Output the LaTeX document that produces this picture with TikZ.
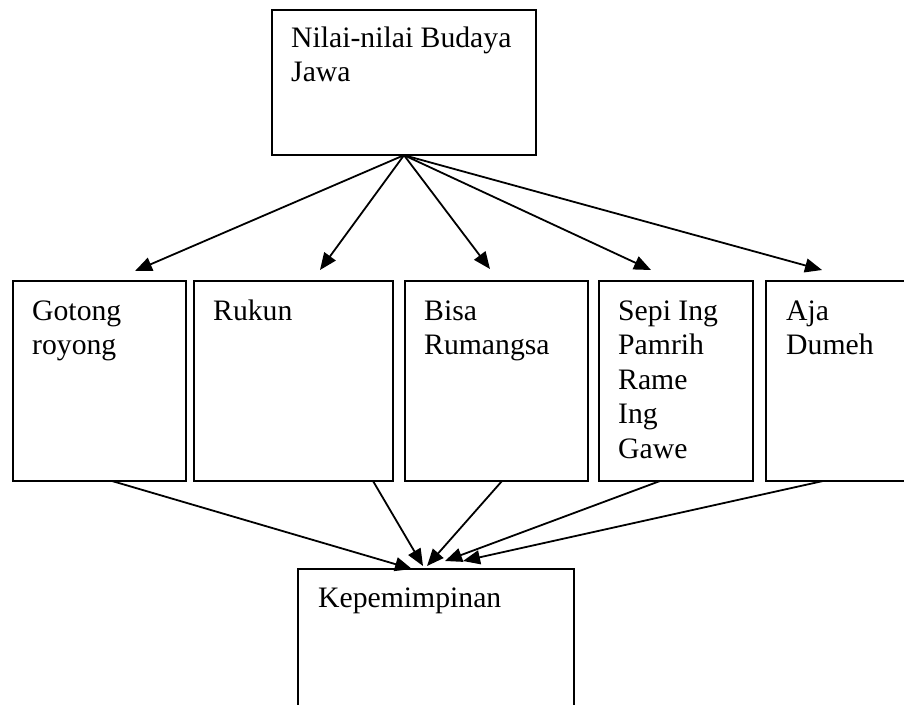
\documentclass[tikz,border=0pt]{standalone}
\usepackage{fontspec}
\setmainfont{Liberation Serif}
\usetikzlibrary{arrows.meta}
\begin{document}
\begin{tikzpicture}[x=1pt,y=-1pt,
  boxstyle/.style={draw=black,line width=1.6pt,fill=none},
  txt/.style={anchor=base west,inner sep=0pt,font=\fontsize{29.7}{34.5}\selectfont},
  conn/.style={line width=1.8pt,-{Triangle[length=17pt,width=14pt]}}]
\useasboundingbox (0,0) rectangle (904,704);
% boxes
\draw[boxstyle] (272,10) rectangle (536,155);
\node[inner sep=0pt] (top) at (404,82.5) [minimum width=264pt,minimum height=145pt] {};
\draw[boxstyle] (13,281) rectangle (186,481);
\draw[boxstyle] (194,281) rectangle (393,481);
\draw[boxstyle] (405,281) rectangle (588,481);
\draw[boxstyle] (599,281) rectangle (753,481);
\draw[boxstyle] (766,281) rectangle (912,481);
\draw[boxstyle] (298,569) rectangle (574,712);
\node[inner sep=0pt,minimum width=173pt,minimum height=200pt] (b1) at (99.5,381) {};
\node[inner sep=0pt,minimum width=199pt,minimum height=200pt] (b2) at (293.5,381) {};
\node[inner sep=0pt,minimum width=183pt,minimum height=200pt] (b3) at (496.5,381) {};
\node[inner sep=0pt,minimum width=154pt,minimum height=200pt] (b4) at (676,381) {};
\node[inner sep=0pt,minimum width=146pt,minimum height=200pt] (b5) at (839,381) {};
\node[inner sep=0pt,minimum width=276pt,minimum height=143pt] (kp) at (436,640.5) {};
% texts
\node[txt] (ttop) at (291,47) {\parbox[t]{240pt}{Nilai-nilai Budaya\\Jawa}};
\node[txt] (t1) at (32,320) {\parbox[t]{150pt}{Gotong\\royong}};
\node[txt] (t2) at (213,320) {\parbox[t]{150pt}{Rukun}};
\node[txt] (t3) at (424,320) {\parbox[t]{160pt}{Bisa\\Rumangsa}};
\node[txt] (t4) at (618,320) {\parbox[t]{130pt}{Sepi Ing\\Pamrih\\Rame\\Ing\\Gawe}};
\node[txt] (t5) at (786,320) {\parbox[t]{110pt}{Aja\\Dumeh}};
\node[txt] (tk) at (318,607) {Kepemimpinan};
% arrow end points
\coordinate (e1) at (135,271);
\coordinate (e2) at (320,270);
\coordinate (e3) at (490,269);
\coordinate (e4) at (651,270);
\coordinate (e5) at (822,270);
\coordinate (s1) at (112,481);
\coordinate (s2) at (373,481);
\coordinate (s3) at (502,481);
\coordinate (s4) at (660,481);
\coordinate (s5) at (823,481);
\coordinate (k1) at (412,569);
\coordinate (k2) at (423,566);
\coordinate (k3) at (427,566);
\coordinate (k4) at (445,561);
\coordinate (k5) at (463,561);
% connectors
\foreach \i in {1,...,5} \draw[conn] (top.south) -- (e\i);
\foreach \i in {1,...,5} \draw[conn] (s\i) -- (k\i);
\end{tikzpicture}
\end{document}
